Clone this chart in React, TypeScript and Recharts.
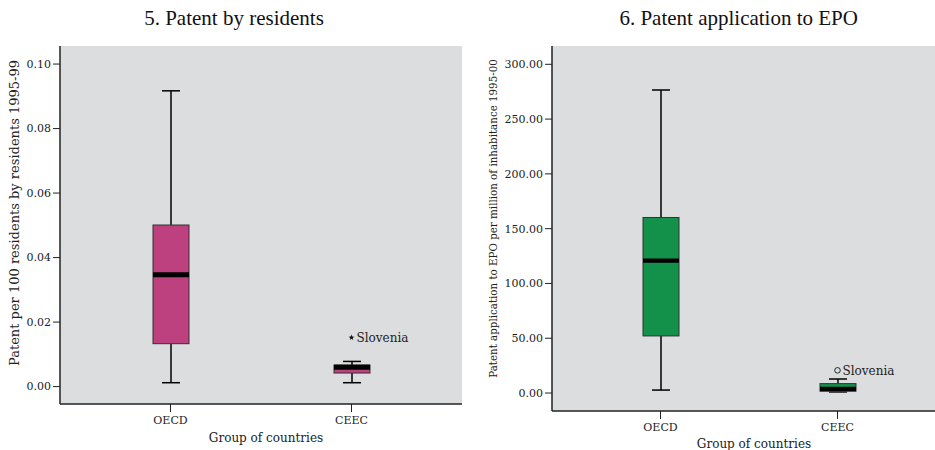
import React from 'react';
import { ComposedChart, Bar, Scatter, XAxis, YAxis, CartesianGrid, Label } from 'recharts';

// ---------- data ----------
const groups = ['OECD', 'CEEC'];

// 5. Patent by residents (per 100 residents, 1995-99)
const resMin = [0.0012, 0.0012];
const resQ1 = [0.0133, 0.0042];
const resMedian = [0.0347, 0.006];
const resQ3 = [0.0501, 0.0067];
const resMax = [0.0917, 0.0078];
const resOutlier = [null, 0.0152];
const resOutlierName = ['', 'Slovenia'];
const resTicks = [0, 0.02, 0.04, 0.06, 0.08, 0.1];

// 6. Patent application to EPO (per million inhabitants, 1995-00)
const epoMin = [2.7, 1.0];
const epoQ1 = [52.1, 1.6];
const epoMedian = [120.8, 3.8];
const epoQ3 = [160.2, 8.6];
const epoMax = [276.5, 12.8];
const epoOutlier = [null, 20.7];
const epoOutlierName = ['', 'Slovenia'];
const epoTicks = [0, 50, 100, 150, 200, 250, 300];

const build = (
  mn: number[], q1: number[], md: number[], q3: number[], mx: number[],
  out: (number | null)[], outName: string[]
) =>
  groups.map((g, i) => ({
    group: g, min: mn[i], q1: q1[i], median: md[i], q3: q3[i], max: mx[i],
    range: [mn[i], mx[i]], outlier: out[i], name: outName[i],
  }));

const resTable = build(resMin, resQ1, resMedian, resQ3, resMax, resOutlier, resOutlierName);
const epoTable = build(epoMin, epoQ1, epoMedian, epoQ3, epoMax, epoOutlier, epoOutlierName);

// ---------- styles ----------
const FONT = 'DejaVu Serif';
const TITLE_FONT = 'Liberation Serif';
const PLOT_BG = '#DCDDDF';

const makeBox = (fill: string, medW: number) => (props: any) => {
  const { x, y, width, height, payload } = props;
  const top = Math.min(y, y + height);
  const h = Math.abs(height);
  const lo = payload.min;
  const hi = payload.max;
  const py = (v: number) => top + ((hi - v) / (hi - lo)) * h;
  const cx = x + width / 2;
  const cap = width / 4;
  return (
    <g>
      <line x1={cx} x2={cx} y1={py(hi)} y2={py(payload.q3)} stroke="#000" strokeWidth={1.5} />
      <line x1={cx} x2={cx} y1={py(payload.q1)} y2={py(lo)} stroke="#000" strokeWidth={1.5} />
      <line x1={cx - cap} x2={cx + cap} y1={py(hi)} y2={py(hi)} stroke="#000" strokeWidth={1.5} />
      <line x1={cx - cap} x2={cx + cap} y1={py(lo)} y2={py(lo)} stroke="#000" strokeWidth={1.5} />
      <rect x={x} y={py(payload.q3)} width={width} height={py(payload.q1) - py(payload.q3)} fill={fill} stroke="#333" strokeWidth={1} />
      <line x1={x} x2={x + width} y1={py(payload.median)} y2={py(payload.median)} stroke="#000" strokeWidth={medW} />
    </g>
  );
};

const starPath = (cx: number, cy: number, r: number) => {
  const pts: string[] = [];
  for (let i = 0; i < 10; i++) {
    const rr = i % 2 === 0 ? r : r * 0.42;
    const a = -Math.PI / 2 + (i * Math.PI) / 5;
    pts.push(`${cx + rr * Math.cos(a)},${cy + rr * Math.sin(a)}`);
  }
  return 'M' + pts.join('L') + 'Z';
};

const StarOutlier = (props: any) => {
  const { cx, cy, payload } = props;
  if (payload == null || payload.outlier == null) return <g />;
  return (
    <g>
      <path d={starPath(cx, cy, 3)} fill="#111" />
      <text x={cx + 5} y={cy + 4} fontFamily={FONT} fontSize={12} fill="#222">{payload.name}</text>
    </g>
  );
};

const CircleOutlier = (props: any) => {
  const { cx, cy, payload } = props;
  if (payload == null || payload.outlier == null) return <g />;
  return (
    <g>
      <circle cx={cx} cy={cy} r={2.8} fill="none" stroke="#222" strokeWidth={1} />
      <text x={cx + 5} y={cy + 4.5} fontFamily={FONT} fontSize={12} fill="#222">{payload.name}</text>
    </g>
  );
};

const yLabel = (text: string, cxOff: number, cyOff: number, fs: number) => (props: any) => {
  const vb = props.viewBox;
  const x = vb.x + cxOff + fs * 0.35;
  const y = vb.y + vb.height / 2 + cyOff;
  return (
    <text x={x} y={y} transform={`rotate(-90, ${x}, ${y})`} textAnchor="middle" fontFamily={FONT} fontSize={fs} fill="#222">
      {text}
    </text>
  );
};

const xLabel = (text: string, baseOff: number, dx: number, fs: number) => (props: any) => {
  const vb = props.viewBox;
  return (
    <text x={vb.x + vb.width / 2 + dx} y={vb.y + baseOff} textAnchor="middle" fontFamily={FONT} fontSize={fs} fill="#222">
      {text}
    </text>
  );
};

const tickStyle = { fontSize: 11, fill: '#222', fontFamily: FONT };

export default function App() {
  return (
    <div style={{ position: 'absolute', left: 0, top: 0, width: 935, height: 450, overflow: 'hidden', background: '#fff' }}>
      <div style={{ position: 'absolute', left: 0, top: 6, width: 468, textAlign: 'center', fontFamily: TITLE_FONT, fontSize: 21, color: '#111', lineHeight: '24px' }}>
        5. Patent by residents
      </div>
      <div style={{ position: 'absolute', left: 538.7, top: 6, width: 400, textAlign: 'center', fontFamily: TITLE_FONT, fontSize: 21, color: '#111', lineHeight: '24px' }}>
        6. Patent application to EPO
      </div>

      <div style={{ position: 'absolute', left: 0, top: 0, width: 470, height: 450 }}>
        <ComposedChart width={470} height={450} data={resTable} margin={{ top: 46, right: 8, bottom: 0, left: 0 }}>
          <CartesianGrid horizontal={false} vertical={false} fill={PLOT_BG} />
          <XAxis
            dataKey="group"
            padding={{ left: 20, right: 20 }}
            height={46}
            tickSize={8}
            tickMargin={4}
            interval={0}
            tick={tickStyle}
            tickLine={{ stroke: '#222' }}
            axisLine={{ stroke: '#222', strokeWidth: 1.5 }}
          >
            <Label content={xLabel('Group of countries', 38, 5, 12)} />
          </XAxis>
          <XAxis xAxisId="top" orientation="top" dataKey="group" height={0} tick={false} tickLine={false} axisLine={{ stroke: '#444' }} />
          <YAxis
            type="number"
            domain={[-0.0054, 0.1056]}
            ticks={resTicks}
            allowDataOverflow
            width={60}
            tickSize={7}
            tick={tickStyle}
            tickLine={{ stroke: '#222' }}
            axisLine={{ stroke: '#222', strokeWidth: 1.5 }}
            tickFormatter={(v: number) => v.toFixed(2)}
          >
            <Label content={yLabel('Patent per 100 residents by residents 1995-99', 14, -12, 13)} />
          </YAxis>
          <YAxis yAxisId="right" orientation="right" width={0} tick={false} tickLine={false} axisLine={{ stroke: '#444' }} />
          <Bar dataKey="range" barSize={36} shape={makeBox('#BC417E', 5)} isAnimationActive={false} />
          <Scatter dataKey="outlier" shape={StarOutlier} isAnimationActive={false} />
        </ComposedChart>
      </div>

      <div style={{ position: 'absolute', left: 480, top: 0, width: 455, height: 450 }}>
        <ComposedChart width={455} height={450} data={epoTable} margin={{ top: 46, right: 0, bottom: 0, left: 0 }}>
          <CartesianGrid horizontal={false} vertical={false} fill={PLOT_BG} />
          <XAxis
            dataKey="group"
            padding={{ left: 20, right: 9 }}
            height={39}
            tickSize={8}
            tickMargin={4}
            interval={0}
            tick={tickStyle}
            tickLine={{ stroke: '#222' }}
            axisLine={{ stroke: '#222', strokeWidth: 1.5 }}
          >
            <Label content={xLabel('Group of countries', 37, 10.5, 12)} />
          </XAxis>
          <XAxis xAxisId="top" orientation="top" dataKey="group" height={0} tick={false} tickLine={false} axisLine={{ stroke: '#444' }} />
          <YAxis
            type="number"
            domain={[-16.4, 316.7]}
            ticks={epoTicks}
            allowDataOverflow
            width={72}
            tickSize={7}
            tick={tickStyle}
            tickLine={{ stroke: '#222' }}
            axisLine={{ stroke: '#222', strokeWidth: 1.5 }}
            tickFormatter={(v: number) => v.toFixed(2)}
          >
            <Label content={yLabel('Patent application to EPO per million of inhabitance 1995-00', 13, -10, 10.3)} />
          </YAxis>
          <Bar dataKey="range" barSize={36} shape={makeBox('#13904A', 4.4)} isAnimationActive={false} />
          <Scatter dataKey="outlier" shape={CircleOutlier} isAnimationActive={false} />
        </ComposedChart>
      </div>
    </div>
  );
}
